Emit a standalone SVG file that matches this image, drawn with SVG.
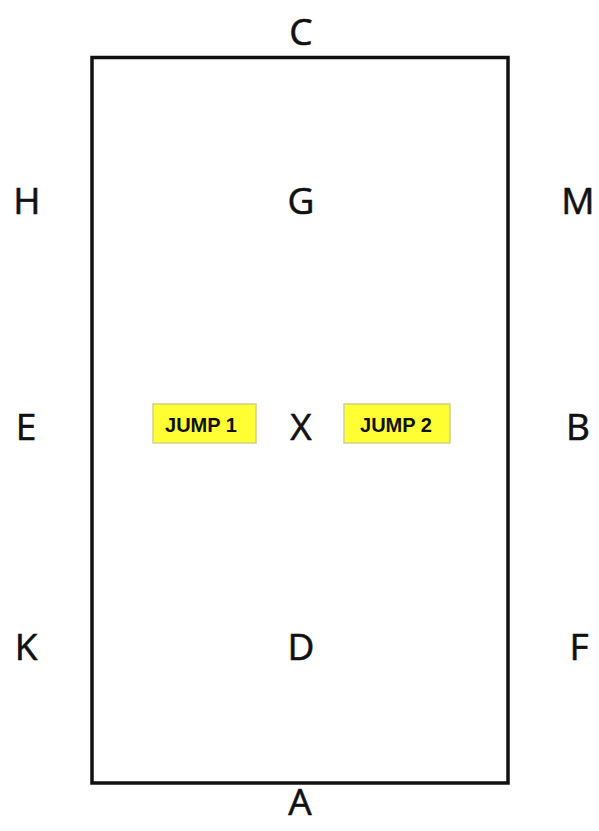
<svg xmlns="http://www.w3.org/2000/svg" width="599" height="831" viewBox="0 0 599 831">
<style>
.l{font-family:"Open Sans","Liberation Sans",sans-serif;font-size:37px;fill:#111;text-anchor:middle;stroke:#111;stroke-width:0.6}
.j{font-family:"Liberation Sans",Arial,sans-serif;font-size:20px;font-weight:bold;fill:#111;text-anchor:middle}
.box{fill:#ffff33;stroke:#cfcf90;stroke-width:1.5}
</style>
<rect width="599" height="831" fill="#fff"/>
<g id="arena"><rect x="92" y="57.5" width="416" height="725.5" fill="none" stroke="#111" stroke-width="3.5"/></g>
<g id="connectors"></g>
<g id="C"><text class="l" x="301" y="45">C</text></g>
<g id="H"><text class="l" x="27" y="214">H</text></g>
<g id="G"><text class="l" x="301" y="214">G</text></g>
<g id="M"><text class="l" x="578" y="214">M</text></g>
<g id="E"><text class="l" x="26" y="440">E</text></g>
<g id="X"><text class="l" x="301" y="440">X</text></g>
<g id="B"><text class="l" x="578" y="440">B</text></g>
<g id="K"><text class="l" x="26" y="660">K</text></g>
<g id="D"><text class="l" x="301" y="660">D</text></g>
<g id="F"><text class="l" x="579" y="660">F</text></g>
<g id="A"><text class="l" x="300" y="815">A</text></g>
<g id="jump1"><rect class="box" x="153" y="404" width="103" height="39"/><text class="j" x="201" y="432" textLength="72" lengthAdjust="spacingAndGlyphs">JUMP 1</text></g>
<g id="jump2"><rect class="box" x="344" y="404" width="106" height="39"/><text class="j" x="396" y="432" textLength="72" lengthAdjust="spacingAndGlyphs">JUMP 2</text></g>
</svg>
